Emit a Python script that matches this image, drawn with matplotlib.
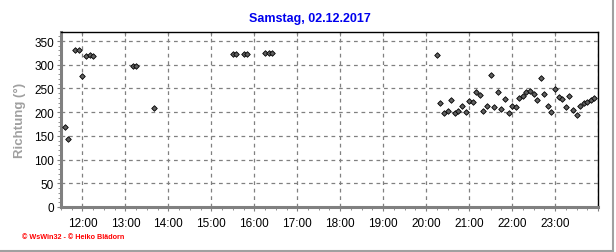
import numpy as np
import matplotlib
matplotlib.use("Agg")
import matplotlib.pyplot as plt
from matplotlib.lines import Line2D
from matplotlib.ticker import MultipleLocator, FuncFormatter

plt.rcParams['font.family'] = ['Liberation Sans', 'DejaVu Sans']

# wind direction readings (time of day, degrees)
times_day = ["11:35", "11:40", "11:50", "11:55", "12:00", "12:05", "12:10", "12:15",
             "13:10", "13:15", "13:40",
             "15:30", "15:35", "15:45", "15:50", "16:15", "16:20", "16:25"]
dir_day = [168, 143, 331, 331, 276, 318, 320, 318,
           297, 297, 209,
           323, 323, 323, 323, 325, 325, 325]

times_eve = ["20:15", "20:20", "20:25", "20:30", "20:35", "20:40", "20:45", "20:50", "20:55",
             "21:00", "21:05", "21:10", "21:15", "21:20", "21:25", "21:30", "21:35", "21:40",
             "21:45", "21:50", "21:55", "22:00", "22:05", "22:10", "22:15", "22:20", "22:25",
             "22:30", "22:35", "22:40", "22:45", "22:50", "22:55", "23:00", "23:05", "23:10",
             "23:15", "23:20", "23:25", "23:30", "23:35", "23:40", "23:45", "23:50", "23:55"]
dir_eve = [320, 219, 198, 202, 226, 198, 202, 214, 200,
           223, 221, 242, 236, 202, 214, 278, 210, 242,
           206, 227, 198, 214, 210, 229, 233, 242, 244,
           238, 225, 271, 238, 214, 200, 248, 231, 227,
           210, 233, 204, 193, 214, 219, 221, 225, 229]

title = "Samstag, 02.12.2017"
ylabel = "Richtung (°)"
footer = "© WsWin32 - © Heiko Blädorn"


def to_hours(labels):
    return [int(s[:2]) + int(s[3:]) / 60 for s in labels]


x = to_hours(times_day) + to_hours(times_eve)
y = dir_day + dir_eve

fig = plt.figure(figsize=(6.16, 2.53), dpi=100)
ax = fig.add_axes([61 / 616, 1 - 208 / 253, 537 / 616, 175 / 253])

ax.scatter(x, y, marker="D", s=8, facecolor="#606060", edgecolor="black",
           linewidths=0.6, zorder=3)

ax.set_xlim(11.5, 24.0)
ax.set_ylim(0, 369)

ax.xaxis.set_major_locator(MultipleLocator(1))
ax.xaxis.set_minor_locator(MultipleLocator(0.25))
ax.xaxis.set_major_formatter(FuncFormatter(lambda v, p: "%02d:00" % int(round(v)) if v < 23.9 else ""))
ax.yaxis.set_major_locator(MultipleLocator(50))
ax.yaxis.set_minor_locator(MultipleLocator(10))

ax.grid(True, which="major", color="#808080", linestyle=(0, (3, 3)), linewidth=0.9)
ax.tick_params(axis="both", which="major", labelsize=8.5, length=3, color="#808080", pad=2)
ax.tick_params(axis="both", which="minor", length=2, color="#808080")
ax.tick_params(axis="x", which="major", pad=4)

for side in ["left", "bottom"]:
    ax.spines[side].set_color("#808080")
    ax.spines[side].set_linewidth(2.2)
for side in ["top", "right"]:
    ax.spines[side].set_color("black")
    ax.spines[side].set_linewidth(1)

# short inward ticks on the top edge at full hours
ax2 = ax.secondary_xaxis("top")
ax2.xaxis.set_major_locator(MultipleLocator(1))
ax2.tick_params(axis="x", direction="in", length=3, color="#808080", labeltop=False)
ax2.spines["top"].set_visible(False)

ax.set_ylabel(ylabel, color="#a0a0a0", fontsize=9.5, fontweight="bold", labelpad=6)

fig.text(0.503, 1 - 19 / 253, title, color="#0000ee", fontsize=9, fontweight="bold",
         ha="center", va="center")
fig.text(22 / 616, 1 - 238 / 253, footer, color="#ff0000", fontsize=5.2,
         ha="left", va="center", fontweight="bold")

# panel border on the right and bottom
fig.add_artist(Line2D([613 / 616, 613 / 616], [1 / 253, 1.0], color="#a0a0a0", lw=1.5))
fig.add_artist(Line2D([0, 613 / 616], [1.5 / 253, 1.5 / 253], color="#a0a0a0", lw=1.5))

fig.savefig("out.png", dpi=100)
